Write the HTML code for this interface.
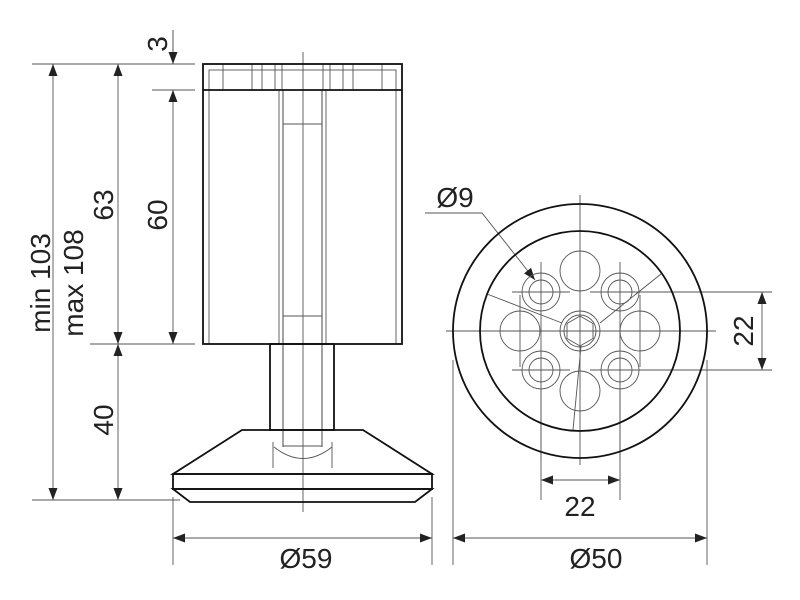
<!DOCTYPE html>
<html><head><meta charset="utf-8"><style>body{margin:0;background:#fff}svg{display:block}text{font-family:"Liberation Sans",sans-serif;font-size:28px;fill:#222}</style></head><body>
<svg width="800" height="600" viewBox="0 0 800 600">
<defs><marker id="a" markerWidth="12" markerHeight="9" refX="12" refY="4.5" orient="auto-start-reverse" markerUnits="userSpaceOnUse"><path d="M0,0 L12,4.5 L0,9z" fill="#222"/></marker></defs>
<g stroke="#555" stroke-width="0.9" fill="none">
<line x1="32" y1="64" x2="195" y2="64"/><line x1="152" y1="90" x2="195" y2="90"/>
<line x1="90" y1="344" x2="195" y2="344"/><line x1="32" y1="500" x2="180" y2="500"/>
<line x1="173" y1="30" x2="173" y2="64"/>
<line x1="173" y1="497" x2="173" y2="565"/><line x1="432" y1="497" x2="432" y2="565"/>
<line x1="453" y1="360" x2="453" y2="565"/><line x1="707" y1="360" x2="707" y2="565"/>
<line x1="541" y1="390" x2="541" y2="500"/><line x1="620" y1="390" x2="620" y2="500"/>
<line x1="620" y1="292" x2="772" y2="292"/><line x1="620" y1="370" x2="772" y2="370"/>
<line x1="53" y1="64" x2="53" y2="500" marker-start="url(#a)" marker-end="url(#a)"/>
<line x1="118" y1="64" x2="118" y2="344" marker-start="url(#a)" marker-end="url(#a)"/>
<line x1="118" y1="344" x2="118" y2="500" marker-start="url(#a)" marker-end="url(#a)"/>
<line x1="173" y1="30" x2="173" y2="64" marker-end="url(#a)"/>
<line x1="173" y1="90" x2="173" y2="344" marker-start="url(#a)" marker-end="url(#a)"/>
<line x1="173" y1="538" x2="432" y2="538" marker-start="url(#a)" marker-end="url(#a)"/>
<line x1="453" y1="538" x2="707" y2="538" marker-start="url(#a)" marker-end="url(#a)"/>
<line x1="541" y1="480" x2="620" y2="480" marker-start="url(#a)" marker-end="url(#a)"/>
<line x1="762" y1="292" x2="762" y2="370" marker-start="url(#a)" marker-end="url(#a)"/>
<polyline points="425,213 482,213 535,280" marker-end="url(#a)"/>
<line x1="303" y1="52" x2="303" y2="512"/>
<line x1="446" y1="331" x2="716" y2="331"/><line x1="580" y1="195" x2="580" y2="465"/>
<line x1="512" y1="292" x2="570" y2="292"/><line x1="590" y1="292" x2="650" y2="292"/>
<line x1="512" y1="370" x2="570" y2="370"/><line x1="590" y1="370" x2="650" y2="370"/>
<line x1="541" y1="262" x2="541" y2="460"/><line x1="620" y1="262" x2="620" y2="460"/>
<line x1="520" y1="295" x2="520" y2="367"/><line x1="640" y1="295" x2="640" y2="367"/>
<line x1="487" y1="294" x2="562" y2="323"/><line x1="600" y1="323" x2="661" y2="274"/>
<line x1="581" y1="346" x2="573" y2="430"/>
<rect x="209" y="70" width="187" height="274"/>
<line x1="223" y1="64" x2="223" y2="90"/><line x1="252" y1="64" x2="252" y2="90"/><line x1="262" y1="64" x2="262" y2="90"/><line x1="275" y1="64" x2="275" y2="90"/><line x1="282" y1="64" x2="282" y2="90"/>
<line x1="323" y1="64" x2="323" y2="90"/><line x1="330" y1="64" x2="330" y2="90"/><line x1="343" y1="64" x2="343" y2="90"/><line x1="353" y1="64" x2="353" y2="90"/><line x1="382" y1="64" x2="382" y2="90"/>
<line x1="279" y1="90" x2="279" y2="344"/><line x1="326" y1="90" x2="326" y2="344"/>
<line x1="283" y1="90" x2="283" y2="447" stroke-width="1.8" stroke="#999"/><line x1="322" y1="90" x2="322" y2="447" stroke-width="1.8" stroke="#999"/>
<line x1="283" y1="124" x2="322" y2="124"/><line x1="283" y1="316" x2="322" y2="316"/><line x1="283" y1="446" x2="322" y2="446"/>
<line x1="273" y1="442" x2="273" y2="468"/><line x1="332" y1="442" x2="332" y2="468"/>
<path d="M274,447 Q303,470 332,447"/>
<circle cx="580" cy="271" r="20"/><circle cx="520" cy="331" r="20"/><circle cx="640" cy="331" r="20"/><circle cx="580" cy="391" r="20"/>
<circle cx="541" cy="292" r="19"/><circle cx="541" cy="292" r="12"/>
<circle cx="620" cy="292" r="19"/><circle cx="620" cy="292" r="12"/>
<circle cx="541" cy="370" r="19"/><circle cx="541" cy="370" r="12"/>
<circle cx="620" cy="370" r="19"/><circle cx="620" cy="370" r="12"/>
<circle cx="580" cy="331" r="20"/><circle cx="580" cy="331" r="16"/>
<polygon points="580,316 593,323.5 593,338.5 580,346 567,338.5 567,323.5"/>
</g>
<g stroke="#111" stroke-width="1.8" fill="none">
<rect x="203" y="64" width="199" height="280"/><line x1="203" y1="90" x2="402" y2="90"/>
<rect x="270" y="344" width="64" height="86"/>
<polygon points="242,430 363,430 432,474 173,474"/>
<rect x="173" y="474" width="259" height="15"/>
<polygon points="173,489 432,489 415,502 190,502"/>
<circle cx="580" cy="331" r="127"/><circle cx="580" cy="331" r="100"/>
</g>
<text transform="translate(50,283) rotate(-90)" text-anchor="middle">min 103</text>
<text transform="translate(83,283) rotate(-90)" text-anchor="middle">max 108</text>
<text transform="translate(113,205) rotate(-90)" text-anchor="middle">63</text>
<text transform="translate(167,215) rotate(-90)" text-anchor="middle">60</text>
<text transform="translate(113,420) rotate(-90)" text-anchor="middle">40</text>
<text transform="translate(167,44) rotate(-90)" text-anchor="middle">3</text>
<text transform="translate(753,331) rotate(-90)" text-anchor="middle">22</text>
<text x="306" y="568" text-anchor="middle">Ø59</text>
<text x="596" y="568" text-anchor="middle">Ø50</text>
<text x="580" y="516" text-anchor="middle">22</text>
<text x="455" y="207" text-anchor="middle">Ø9</text>
</svg>
</body></html>
